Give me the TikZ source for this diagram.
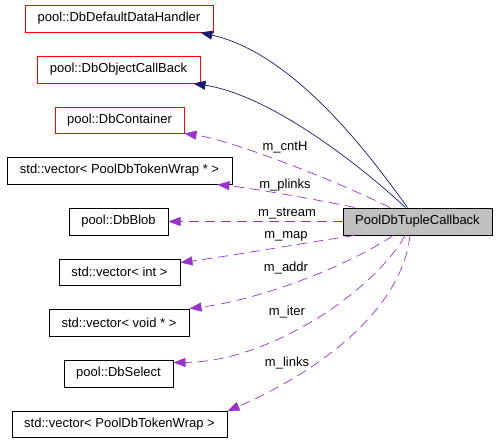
\documentclass[tikz,border=0pt]{standalone}
\usepackage{fontspec}
\setmainfont{Liberation Sans}
\usetikzlibrary{arrows.meta,calc}
\definecolor{navyc}{RGB}{25,25,112}
\definecolor{purplec}{RGB}{153,50,204}
\definecolor{redc}{RGB}{255,0,0}
\definecolor{grayc}{RGB}{191,191,191}
\tikzset{
  cls/.style={draw=black,line width=1pt,fill=white,inner sep=0pt,font=\fontsize{13}{15}\selectfont},
  redcls/.style={cls,draw=redc},
  maincls/.style={cls,fill=grayc},
  inh/.style={draw=navyc,line width=0.7pt,-{Triangle[length=12pt,width=9pt]}},
  use/.style={draw=purplec,line width=0.7pt,dash pattern=on 10pt off 6pt,-{Triangle[length=12pt,width=9pt]}},
  lbl/.style={inner sep=0pt,font=\fontsize{13}{15}\selectfont}
}
\begin{document}
\begin{tikzpicture}[x=1pt,y=-1pt]
\useasboundingbox (0,0) rectangle (496,442);
\node[redcls,minimum width=188pt,minimum height=27pt] (n1) at (119,18.5) {pool::DbDefaultDataHandler};
\node[redcls,minimum width=163pt,minimum height=27pt] (n2) at (118.5,69.5) {pool::DbObjectCallBack};
\node[redcls,minimum width=129pt,minimum height=26pt] (n3) at (119.5,120) {pool::DbContainer};
\node[cls,minimum width=225pt,minimum height=27pt] (n4) at (119.5,170.5) {std::vector< PoolDbTokenWrap * >};
\node[cls,minimum width=99pt,minimum height=27pt] (n5) at (118.5,221.5) {pool::DbBlob};
\node[cls,minimum width=121pt,minimum height=26pt] (n6) at (119.5,272) {std::vector< int >};
\node[cls,minimum width=140pt,minimum height=27pt] (n7) at (119,322.5) {std::vector< void * >};
\node[cls,minimum width=109pt,minimum height=27pt] (n8) at (118.5,373.5) {pool::DbSelect};
\node[cls,minimum width=215pt,minimum height=26pt] (n9) at (119.5,424.5) {std::vector< PoolDbTokenWrap >};
\node[maincls,minimum width=149pt,minimum height=27pt] (t) at (417.5,221.5) {PoolDbTupleCallback};

% inheritance
\draw[inh] ($(t.north)+(-10,0)$) .. controls (380,170) and (300,55) .. ($(n1.south east)+(-13,0)$);
\draw[inh] ($(t.north)+(-12,0)$) .. controls (360,165) and (270,95) .. ($(n2.south east)+(-7,0)$);

% usage
\draw[use] ($(t.north)+(-27.5,0)$) .. controls (330,178) and (230,140) .. (n3.south east);
\draw[use] ($(t.north west)+(12,0)$) .. controls (320,200) and (250,188) .. ($(n4.south east)+(-15,0)$);
\draw[use] (t.west) -- (n5.east);
\draw[use] ($(t.south west)+(12,0)$) .. controls (310,242) and (230,256) .. ($(n6.north east)+(0,4)$);
\draw[use] ($(t.south)+(-24.5,0)$) .. controls (350,265) and (260,300) .. (n7.north east);
\draw[use] ($(t.south)+(-12.5,0)$) .. controls (375,290) and (270,362) .. ($(n8.north east)+(0,3)$);
\draw[use] ($(t.south)+(-7.5,0)$) .. controls (400,320) and (300,380) .. (n9.north east);

\node[lbl] (l1) at (285,147) {m\_cntH};
\node[lbl] (l2) at (285,185) {m\_plinks};
\node[lbl] (l3) at (287,214) {m\_stream};
\node[lbl] (l4) at (286,236) {m\_map};
\node[lbl] (l5) at (286,268) {m\_addr};
\node[lbl] (l6) at (287,312) {m\_iter};
\node[lbl] (l7) at (287,363) {m\_links};
\end{tikzpicture}
\end{document}
